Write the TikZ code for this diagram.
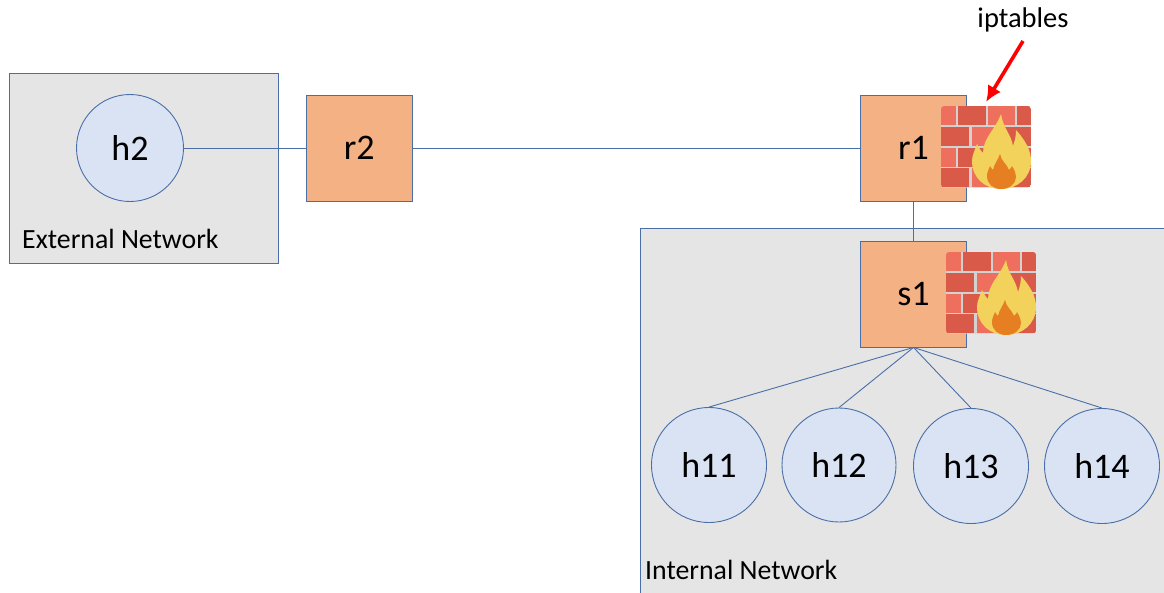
\documentclass[tikz,border=0pt]{standalone}
\usepackage{fontspec}
\usetikzlibrary{arrows.meta}
\setmainfont{Carlito}
\definecolor{edgeblue}{HTML}{4A6FA8}
\definecolor{hostfill}{HTML}{DAE3F3}
\definecolor{boxfill}{HTML}{F4B183}
\definecolor{netfill}{HTML}{E5E5E5}
\definecolor{bricklight}{HTML}{EE6F5E}
\definecolor{brickdark}{HTML}{D95A48}
\definecolor{brickgap}{HTML}{D2D2D2}
\definecolor{flameout}{HTML}{F3D25C}
\definecolor{flamein}{HTML}{E67E22}
\tikzset{
  netarea/.style={draw=edgeblue,fill=netfill,line width=0.9pt},
  hostnode/.style={circle,draw=edgeblue,fill=hostfill,line width=0.9pt,inner sep=0pt,font=\fontsize{36}{40}\selectfont},
  devnode/.style={rectangle,draw=edgeblue,fill=boxfill,line width=0.9pt,inner sep=0pt,minimum width=106.5pt,minimum height=106pt,font=\fontsize{36}{40}\selectfont},
  link/.style={draw=edgeblue,line width=0.9pt},
  caption/.style={inner sep=0pt,font=\fontsize{27.8}{30}\selectfont}
}
\newcommand{\brickwall}[2]{%
  \begin{scope}[shift={(#1,#2)}]
    \begin{scope}
    \clip[rounded corners=3pt] (0,0) rectangle (90,81.5);
    \fill[brickgap] (0,0) rectangle (90,82);
    \foreach \xa/\xb/\yy/\cc in {0/14.5/0/bricklight,17/44.5/0/brickdark,47/73.5/0/bricklight,76/90/0/brickdark,
      0/28/20.8/brickdark,30.5/58/20.8/bricklight,60.5/90/20.8/brickdark,
      0/14.5/41.6/bricklight,17/44.5/41.6/brickdark,47/73.5/41.6/bricklight,76/90/41.6/brickdark,
      0/28/62.4/brickdark,30.5/58/62.4/bricklight,60.5/90/62.4/brickdark}{
      \fill[\cc] (\xa,\yy) rectangle (\xb,\yy+19);
    }
    \end{scope}
    \fill[flameout] (60,8) .. controls (62,22) and (70,28) .. (72,40)
      .. controls (74,34) and (75,30) .. (75,24)
      .. controls (84,34) and (90,44) .. (90,55)
      .. controls (90,72) and (76,83) .. (60,83)
      .. controls (44,83) and (31,72) .. (31,55)
      .. controls (31,49) and (34,44) .. (36,38)
      .. controls (38,42) and (40,45) .. (42,47)
      .. controls (42,32) and (54,24) .. (60,8) -- cycle;
    \fill[flamein] (59,48) .. controls (60,55) and (66,58) .. (68,64)
      .. controls (70,62) and (71,61) .. (71,60)
      .. controls (74,65) and (75,68) .. (75,71)
      .. controls (75,78) and (68,83) .. (60,83)
      .. controls (52,83) and (46,78) .. (46,70)
      .. controls (46,66) and (48,63) .. (49,60)
      .. controls (50,62) and (51,63) .. (52,64)
      .. controls (53,58) and (57,54) .. (59,48) -- cycle;
  \end{scope}}
\begin{document}
\begin{tikzpicture}[x=1pt,y=-1pt]
\useasboundingbox (0,0) rectangle (1164,592);
\fill[white] (0,0) rectangle (1164,592);
\draw[netarea] (9,73.5) rectangle (278,263);
\draw[netarea] (640,228) -- (1170,228) -- (1170,600) -- (640,600) -- cycle;
\node[caption,anchor=base west] (extlabel) at (22,248) {External Network};
\node[caption,anchor=base west] (intlabel) at (645,579) {Internal Network};
\node[hostnode,minimum size=107pt] (h2) at (130,148) {h2};
\node[devnode] (r2) at (359.3,148) {r2};
\node[devnode] (r1) at (913.5,148) {r1};
\node[devnode] (s1) at (913.5,294) {s1};
\node[hostnode,minimum size=115pt] (h11) at (709,465) {h11};
\node[hostnode,minimum size=114pt] (h12) at (839,465) {h12};
\node[hostnode,minimum size=115pt] (h13) at (971,466) {h13};
\node[hostnode,minimum size=115pt] (h14) at (1102,466) {h14};
\draw[link] (h2) -- (r2);
\draw[link] (r2) -- (r1);
\draw[link] (r1) -- (s1);
\foreach \h in {h11,h12,h13,h14}{\draw[link] (s1.south) -- (\h.north);}
\brickwall{941}{106}
\brickwall{946}{252}
\node[inner sep=0pt,font=\fontsize{28.5}{30}\selectfont] (ipt) at (1023,20) {iptables};
\coordinate (arrowstart) at (1023,41);
\coordinate (arrowend) at (986,102);
\draw[red,line width=3.6pt,-{Latex[length=16pt,width=15pt]}] (arrowstart) -- (arrowend);
\end{tikzpicture}
\end{document}
